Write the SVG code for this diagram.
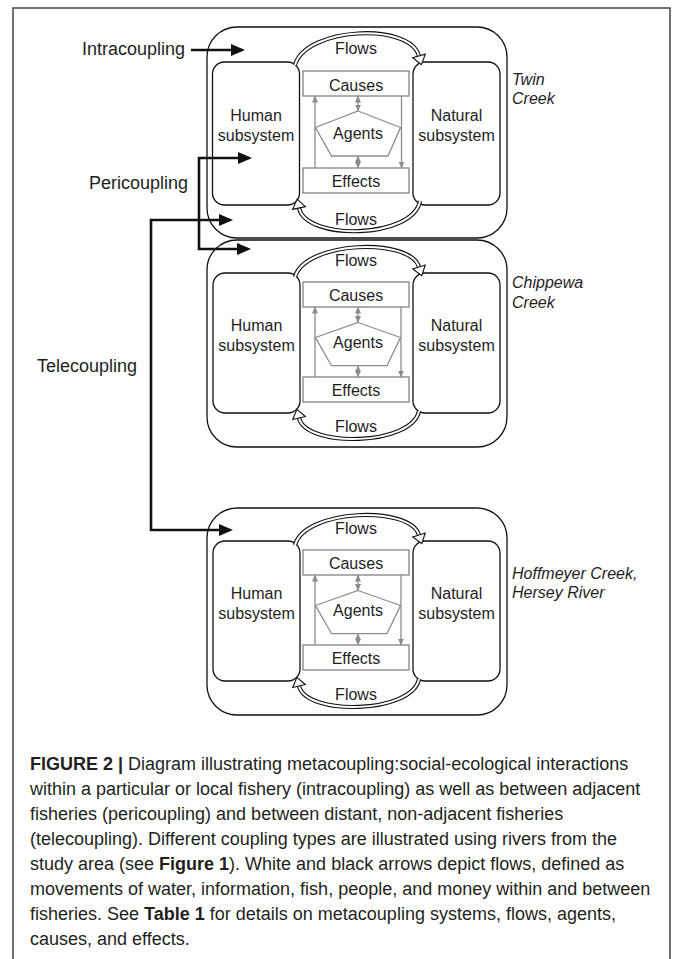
<svg xmlns="http://www.w3.org/2000/svg" width="673" height="959" viewBox="0 0 673 959">
<style>
text{font-family:"Liberation Sans",Arial,Helvetica,sans-serif}
.t{font-size:16px;fill:#1e1e1e;text-anchor:middle}
.lbl{font-size:18px;fill:#1e1e1e}
.site{font-size:16px;fill:#1e1e1e;font-style:italic}
.cap{font-size:18px;fill:#231f20}
.cap .b{font-weight:bold}
.outer{fill:none;stroke:#111;stroke-width:1.3}
.sub{fill:none;stroke:#111;stroke-width:1.3}
.gbox{fill:#fff;stroke:#8c8c8c;stroke-width:1.4}
.gline{fill:none;stroke:#8c8c8c;stroke-width:1.3}
.garr{fill:none;stroke:#8c8c8c;stroke-width:1.3;marker-end:url(#ag)}
.garr2{fill:none;stroke:#8c8c8c;stroke-width:1.3;marker-start:url(#ag);marker-end:url(#ag)}
.bo{fill:none;stroke:#111;stroke-width:4.2}
.bi{fill:none;stroke:#fff;stroke-width:2}
.head{fill:#fff;stroke:#111;stroke-width:1.1;stroke-linejoin:miter}
.cpl{fill:none;stroke:#111;stroke-width:2.6;marker-start:url(#ab);marker-end:url(#ab)}
.cpl1{fill:none;stroke:#111;stroke-width:2.6;marker-end:url(#ab)}
</style>
<defs>
<marker id="ab" viewBox="0 0 14 12" markerWidth="14" markerHeight="12" refX="11" refY="6" orient="auto-start-reverse" markerUnits="userSpaceOnUse"><path d="M0,0 L14,6 L0,12 z" fill="#111"/></marker>
<marker id="ag" viewBox="0 0 7 7" markerWidth="7" markerHeight="7" refX="6.5" refY="3.5" orient="auto-start-reverse" markerUnits="userSpaceOnUse"><path d="M0,0.5 L7,3.5 L0,6.5 z" fill="#8c8c8c"/></marker>
<g id="mod-inner">
<rect class="outer" x="207" y="0" width="300" height="207" rx="30"/>
<rect class="sub" x="213" y="33" width="87" height="140" rx="12"/>
<text class="t" x="256.5" y="90.7">Human</text>
<text class="t" x="256.5" y="110.7">subsystem</text>
<rect class="sub" x="413" y="33" width="87" height="140" rx="12"/>
<text class="t" x="456.5" y="90.7">Natural</text>
<text class="t" x="456.5" y="110.7">subsystem</text>
<rect class="gbox" x="303" y="42" width="106" height="25"/>
<text class="t" x="356" y="60.7">Causes</text>
<polygon class="gline" points="358,82.5 400.5,97.5 387,125.7 331.5,125.7 315.5,97.5"/>
<text class="t" x="358" y="108">Agents</text>
<rect class="gbox" x="303" y="137" width="106" height="25"/>
<text class="t" x="356" y="155.5">Effects</text>
<text class="t" x="356" y="25.5">Flows</text>
<text class="t" x="356" y="192">Flows</text>
</g>
</defs>
<rect x="13" y="8" width="657" height="965" fill="none" stroke="#444" stroke-width="1.5"/>

<g id="twin-creek">
<rect class="outer" x="207" y="27" width="300" height="211" rx="30"/>
<g id="twin-human"><rect class="sub" x="212.5" y="62" width="87" height="143" rx="12"/>
<text class="t" x="256" y="121">Human</text><text class="t" x="256" y="141">subsystem</text></g>
<g id="twin-natural"><rect class="sub" x="413" y="62" width="87" height="143" rx="12"/>
<text class="t" x="456.5" y="121">Natural</text><text class="t" x="456.5" y="141">subsystem</text></g>
<g id="twin-causes"><rect class="gbox" x="303" y="71" width="106" height="25"/><text class="t" x="356" y="90.5">Causes</text></g>
<g id="twin-agents"><polygon class="gline" points="358,111 400.5,127.5 388,156 331.5,156 315.5,127.5"/><text class="t" x="358" y="138.5">Agents</text></g>
<g id="twin-effects"><rect class="gbox" x="303" y="168" width="106" height="25"/><text class="t" x="356" y="187">Effects</text></g>
<text class="t" x="356" y="53.5">Flows</text>
<text class="t" x="356" y="225">Flows</text>
</g>

<g id="chippewa-creek" transform="translate(0,240)"><use href="#mod-inner"/></g>
<g id="hoffmeyer-creek" transform="translate(0,508)"><use href="#mod-inner"/></g>

<g id="connectors">
<g id="twin-links">
<path class="garr" d="M315 168 V96"/>
<path class="garr" d="M401.5 96 V168"/>
<path class="garr2" d="M358 96 V111"/>
<path class="garr2" d="M358 156 V168"/>
<path class="bo" d="M295 65 C306 27 410 22 419 56"/>
<path class="bi" d="M295 65 C306 27 410 22 419 56"/>
<polygon class="head" points="412.7,57.8 421.4,64.7 425.3,54.2"/>
<path class="bo" d="M420 201 C413 239 306 241 299 208"/>
<path class="bi" d="M420 201 C413 239 306 241 299 208"/>
<polygon class="head" points="305.4,206.6 297.1,199.2 292.6,209.4"/>
</g>
<g id="chippewa-links" transform="translate(0,240)">
<path class="garr" d="M315 137 V67"/>
<path class="garr" d="M401 67 V137"/>
<path class="garr2" d="M358 67 V82.5"/>
<path class="garr2" d="M358 125.7 V137"/>
<path class="bo" d="M295 37 C305 1 410 -3 419 27"/>
<path class="bi" d="M295 37 C305 1 410 -3 419 27"/>
<polygon class="head" points="412.8,29 421.8,35.6 425.2,25"/>
<path class="bo" d="M419 171 C412 206 306 208 299 178"/>
<path class="bi" d="M419 171 C412 206 306 208 299 178"/>
<polygon class="head" points="305.3,176.5 296.9,169.3 292.7,179.5"/>
</g>
<g id="hoffmeyer-links" transform="translate(0,508)">
<path class="garr" d="M315 137 V67"/>
<path class="garr" d="M401 67 V137"/>
<path class="garr2" d="M358 67 V82.5"/>
<path class="garr2" d="M358 125.7 V137"/>
<path class="bo" d="M295 37 C305 1 410 -3 419 27"/>
<path class="bi" d="M295 37 C305 1 410 -3 419 27"/>
<polygon class="head" points="412.8,29 421.8,35.6 425.2,25"/>
<path class="bo" d="M419 171 C412 206 306 208 299 178"/>
<path class="bi" d="M419 171 C412 206 306 208 299 178"/>
<polygon class="head" points="305.3,176.5 296.9,169.3 292.7,179.5"/>
</g>
<g id="couplings">
<path class="cpl1" d="M191 50 H242"/>
<path class="cpl" d="M249 158 H199 V249 H248"/>
<path class="cpl" d="M230 220 H151 V530 H230"/>
</g>
</g>

<g id="labels">
<text class="lbl" x="82" y="55">Intracoupling</text>
<text class="lbl" x="89" y="189">Pericoupling</text>
<text class="lbl" x="37" y="372">Telecoupling</text>
<text class="site" x="512" y="84.5">Twin</text>
<text class="site" x="512" y="103.5">Creek</text>
<text class="site" x="512" y="288">Chippewa</text>
<text class="site" x="512" y="307.5">Creek</text>
<text class="site" x="512" y="578.5">Hoffmeyer Creek,</text>
<text class="site" x="512" y="598">Hersey River</text>
</g>

<g id="caption" class="cap">
<text x="30" y="770"><tspan class="b">FIGURE 2 |</tspan> Diagram illustrating metacoupling:social-ecological interactions</text>
<text x="30" y="795">within a particular or local fishery (intracoupling) as well as between adjacent</text>
<text x="30" y="820">fisheries (pericoupling) and between distant, non-adjacent fisheries</text>
<text x="30" y="845">(telecoupling). Different coupling types are illustrated using rivers from the</text>
<text x="30" y="870">study area (see <tspan class="b">Figure 1</tspan>). White and black arrows depict flows, defined as</text>
<text x="30" y="895">movements of water, information, fish, people, and money within and between</text>
<text x="30" y="920">fisheries. See <tspan class="b">Table 1</tspan> for details on metacoupling systems, flows, agents,</text>
<text x="30" y="945">causes, and effects.</text>
</g>
</svg>
